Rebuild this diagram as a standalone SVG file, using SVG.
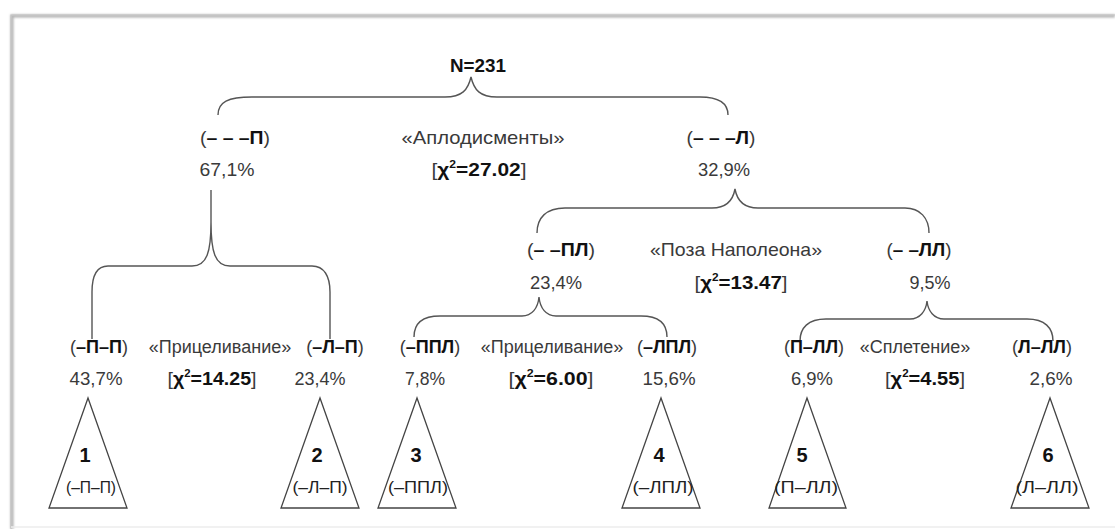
<svg xmlns="http://www.w3.org/2000/svg" width="1115" height="529" viewBox="0 0 1115 529">
<defs>
<style>
text{font-family:"Liberation Sans Narrow","Liberation Sans",Arial,sans-serif;font-size:19px;fill:#3a3a3a;text-anchor:middle}
.b{font-weight:bold;fill:#111}
.r4{font-size:18px}
.num{font-weight:bold;fill:#111;font-size:20px}
.lab{font-size:17px;fill:#222}
.sup{font-size:11px}
.br{fill:none;stroke:#555;stroke-width:1.4}
.tri{fill:#fff;stroke:#444;stroke-width:1.3}
</style>
<filter id="sh" x="-5%" y="-5%" width="110%" height="110%"><feGaussianBlur stdDeviation="1.2"/></filter>
</defs>
<rect width="1115" height="529" fill="#fff"/>
<g id="frame">
<path d="M12,529 V16 H1115" fill="none" stroke="#b0b0b0" stroke-width="3" filter="url(#sh)"/>
<path d="M11,529 V15 H1115" fill="none" stroke="#c4c4c4" stroke-width="1.2"/>
<line x1="11" y1="527" x2="1115" y2="527" stroke="#ececec" stroke-width="1.5"/>
</g>
<g id="connectors">
<path class="br" d="M218,115 C218,102 228,97 252,97 L445,97 C462,97 468,90 471,77 C474,90 480,97 497,97 L700,97 C718,97 728,102 728,115"/>
<path class="br" d="M211,190 L211,222 C211,252 207,266 192,266 L108,266 C97,266 92,276 92,292 L92,339 M211,222 C211,252 215,266 230,266 L312,266 C324,266 330,276 330,292 L330,339"/>
<path class="br" d="M537,233 C537,218 546,208 565,208 L712,208 C726,208 733,200 735,189 C737,200 744,208 758,208 L905,208 C920,208 929,218 929,233"/>
<path class="br" d="M414,337 C414,324 422,316 440,316 L522,316 C532,316 538,308 539,297 C540,308 546,316 556,316 L641,316 C659,316 667,324 667,337"/>
<path class="br" d="M800,341 C800,328 808,319 826,319 L910,319 C920,319 926,311 927,301 C928,311 934,319 944,319 L1027,319 C1045,319 1053,328 1053,341"/>
</g>
<g id="root"><text x="478" y="72" class="b" textLength="56" lengthAdjust="spacingAndGlyphs">N=231</text></g>
<g id="split1">
<text x="483" y="144" textLength="163" lengthAdjust="spacingAndGlyphs">«Аплодисменты»</text>
<text x="479" y="176" textLength="95" lengthAdjust="spacingAndGlyphs">[<tspan class="b">χ<tspan class="sup" dy="-8">2</tspan><tspan dy="8">=27.02</tspan></tspan>]</text>
</g>
<g id="nodeP">
<text x="235" y="144" textLength="70" lengthAdjust="spacingAndGlyphs">(<tspan class="b">– – –П</tspan>)</text>
<text x="227" y="176" textLength="55" lengthAdjust="spacingAndGlyphs">67,1%</text>
</g>
<g id="nodeL">
<text x="721" y="144" textLength="69" lengthAdjust="spacingAndGlyphs">(<tspan class="b">– – –Л</tspan>)</text>
<text x="724" y="176" textLength="52" lengthAdjust="spacingAndGlyphs">32,9%</text>
</g>
<g id="split2">
<text x="736" y="256" textLength="172" lengthAdjust="spacingAndGlyphs">«Поза Наполеона»</text>
<text x="741" y="289" textLength="93" lengthAdjust="spacingAndGlyphs">[<tspan class="b">χ<tspan class="sup" dy="-8">2</tspan><tspan dy="8">=13.47</tspan></tspan>]</text>
</g>
<g id="nodePL">
<text x="561" y="256" textLength="68" lengthAdjust="spacingAndGlyphs">(<tspan class="b">– –ПЛ</tspan>)</text>
<text x="556" y="289" textLength="52" lengthAdjust="spacingAndGlyphs">23,4%</text>
</g>
<g id="nodeLL">
<text x="919" y="256" textLength="65" lengthAdjust="spacingAndGlyphs">(<tspan class="b">– –ЛЛ</tspan>)</text>
<text x="930" y="289" textLength="41" lengthAdjust="spacingAndGlyphs">9,5%</text>
</g>
<g id="split3">
<text x="220" y="353" class="r4">«Прицеливание»</text>
<text x="212" y="385" textLength="89" lengthAdjust="spacingAndGlyphs">[<tspan class="b">χ<tspan class="sup" dy="-8">2</tspan><tspan dy="8">=14.25</tspan></tspan>]</text>
</g>
<g id="split4">
<text x="552" y="353" class="r4">«Прицеливание»</text>
<text x="551" y="385" textLength="85" lengthAdjust="spacingAndGlyphs">[<tspan class="b">χ<tspan class="sup" dy="-8">2</tspan><tspan dy="8">=6.00</tspan></tspan>]</text>
</g>
<g id="split5">
<text x="915" y="353" class="r4">«Сплетение»</text>
<text x="925" y="385" textLength="80" lengthAdjust="spacingAndGlyphs">[<tspan class="b">χ<tspan class="sup" dy="-8">2</tspan><tspan dy="8">=4.55</tspan></tspan>]</text>
</g>
<g id="leaf1">
<text x="99" y="353" class="r4">(<tspan class="b">–П–П</tspan>)</text>
<text x="96" y="385" textLength="53" lengthAdjust="spacingAndGlyphs">43,7%</text>
<polygon class="tri" points="88,398 49,508 127,508"/>
<text x="85" y="462" class="num">1</text>
<text x="91" y="493" class="lab" textLength="50" lengthAdjust="spacingAndGlyphs">(–П–П)</text>
</g>
<g id="leaf2">
<text x="335" y="353" class="r4">(<tspan class="b">–Л–П</tspan>)</text>
<text x="320" y="385" textLength="51" lengthAdjust="spacingAndGlyphs">23,4%</text>
<polygon class="tri" points="320,398 281,508 359,508"/>
<text x="317" y="462" class="num">2</text>
<text x="320" y="493" class="lab" textLength="55" lengthAdjust="spacingAndGlyphs">(–Л–П)</text>
</g>
<g id="leaf3">
<text x="430" y="353" class="r4">(<tspan class="b">–ППЛ</tspan>)</text>
<text x="425" y="385" textLength="40" lengthAdjust="spacingAndGlyphs">7,8%</text>
<polygon class="tri" points="417,398 378,508 456,508"/>
<text x="416" y="462" class="num">3</text>
<text x="418" y="493" class="lab" textLength="60" lengthAdjust="spacingAndGlyphs">(–ППЛ)</text>
</g>
<g id="leaf4">
<text x="667" y="353" class="r4">(<tspan class="b">–ЛПЛ</tspan>)</text>
<text x="669" y="385" textLength="53" lengthAdjust="spacingAndGlyphs">15,6%</text>
<polygon class="tri" points="661,398 622,508 700,508"/>
<text x="659" y="462" class="num">4</text>
<text x="663" y="493" class="lab" textLength="61" lengthAdjust="spacingAndGlyphs">(–ЛПЛ)</text>
</g>
<g id="leaf5">
<text x="814" y="353" class="r4">(<tspan class="b">П–ЛЛ</tspan>)</text>
<text x="812" y="385" textLength="42" lengthAdjust="spacingAndGlyphs">6,9%</text>
<polygon class="tri" points="807,398 769,508 846,508"/>
<text x="802" y="462" class="num">5</text>
<text x="806" y="493" class="lab" textLength="64" lengthAdjust="spacingAndGlyphs">(П–ЛЛ)</text>
</g>
<g id="leaf6">
<text x="1042" y="353" class="r4">(<tspan class="b">Л–ЛЛ</tspan>)</text>
<text x="1051" y="385" textLength="43" lengthAdjust="spacingAndGlyphs">2,6%</text>
<polygon class="tri" points="1050,398 1011,508 1089,508"/>
<text x="1048" y="462" class="num">6</text>
<text x="1047" y="493" class="lab" textLength="63" lengthAdjust="spacingAndGlyphs">(Л–ЛЛ)</text>
</g>
</svg>
